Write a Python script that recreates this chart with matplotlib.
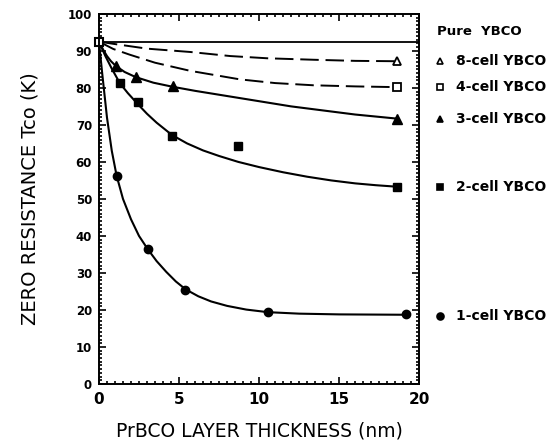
import matplotlib
matplotlib.use("Agg")
import matplotlib.pyplot as plt
from matplotlib.ticker import MultipleLocator

# measured points (thickness nm, Tco K)
pure_tc = 92.5

x8 = [18.6]
y8 = [87.2]
x4 = [18.6]
y4 = [80.2]
x3 = [1.06, 2.3, 4.6, 18.6]
y3 = [85.9, 82.9, 80.4, 71.7]
x2 = [1.3, 2.45, 4.55, 8.7, 18.6]
y2 = [81.3, 76.1, 67.1, 64.4, 53.3]
x1 = [1.1, 3.05, 5.4, 10.55, 19.2]
y1 = [56.3, 36.4, 25.3, 19.5, 18.8]

# guide curves
c8x = [0, 0.9, 3, 5.7, 8.2, 10.5, 13.4, 16, 18.6]
c8y = [92.5, 91.9, 90.6, 89.7, 88.6, 88.0, 87.6, 87.3, 87.2]
c4x = [0, 0.9, 1.9, 3.5, 5.7, 8.8, 11, 13.4, 16, 18.6]
c4y = [92.5, 90.5, 89.0, 86.8, 84.6, 82.3, 81.3, 80.7, 80.4, 80.2]
c3x = [0, 0.25, 0.5, 0.75, 1.06, 1.6, 2.3, 3.4, 4.6, 6, 8, 10, 12, 14, 16, 18.6]
c3y = [92.5, 90.4, 88.6, 87.2, 85.9, 84.3, 82.9, 81.4, 80.3, 79.2, 77.8, 76.4, 75.0, 73.9, 72.8, 71.7]
c2x = [0, 0.4, 0.8, 1.3, 1.8, 2.45, 3.0, 3.6, 4.55, 5.5, 6.5, 7.5, 8.7, 10, 11.5, 13, 14.5, 16, 17.3, 18.6]
c2y = [92.5, 88.6, 85.2, 81.3, 78.6, 75.5, 73.0, 70.6, 67.3, 65.0, 63.1, 61.6, 60.0, 58.6,
       57.2, 56.0, 55.0, 54.2, 53.7, 53.3]
c1x = [0, 0.2, 0.5, 0.8, 1.1, 1.5, 2.0, 2.5, 3.05, 3.6, 4.2, 4.8, 5.4, 6.2, 7.0, 8.0, 9.2,
       10.55, 12.5, 15, 19.2]
c1y = [92.5, 84, 72, 63, 56.3, 50, 44.5, 40, 36.4, 33.2, 30.3, 27.7, 25.6, 23.7, 22.3, 21.1,
       20.1, 19.4, 19.0, 18.8, 18.7]

labels = ["8-cell YBCO", "4-cell YBCO", "3-cell YBCO", "2-cell YBCO", "1-cell YBCO"]
label_y = [87.2, 80.2, 71.7, 53.3, 18.3]
label_mk = ["^", "s", "^", "s", "o"]
label_fill = ["white", "white", "black", "black", "black"]

fig = plt.figure(figsize=(5.56, 4.47), dpi=100)
ax = fig.add_axes([0.178, 0.141, 0.576, 0.828])

ax.axhline(pure_tc, color="black", lw=1.3)
ax.plot(c8x, c8y, color="black", lw=1.4, dashes=(9.5, 3.5))
ax.plot(c4x, c4y, color="black", lw=1.4, dashes=(9.5, 3.5))
ax.plot(c3x, c3y, color="black", lw=1.5)
ax.plot(c2x, c2y, color="black", lw=1.5)
ax.plot(c1x, c1y, color="black", lw=1.5)

ax.plot([0], [pure_tc], "s", ms=6, mfc="white", mec="black", mew=1.5, clip_on=False)
ax.plot(x8, y8, "^", ms=6, mfc="white", mec="black", mew=1.3)
ax.plot(x4, y4, "s", ms=5.5, mfc="white", mec="black", mew=1.3)
ax.plot(x3, y3, "^", ms=6.5, color="black")
ax.plot(x2, y2, "s", ms=6, color="black")
ax.plot(x1, y1, "o", ms=6, color="black")

ax.set_xlim(0, 20)
ax.set_ylim(0, 100)
ax.xaxis.set_major_locator(MultipleLocator(5))
ax.xaxis.set_minor_locator(MultipleLocator(0.5))
ax.yaxis.set_major_locator(MultipleLocator(10))
ax.yaxis.set_minor_locator(MultipleLocator(1))
ax.tick_params(which="both", direction="in", top=True, right=True, width=1.2)
ax.tick_params(which="major", length=5)
ax.tick_params(which="minor", length=2)
ax.tick_params(axis="x", labelsize=11, pad=6)
ax.tick_params(axis="y", labelsize=8.5, pad=5)
for t in ax.get_xticklabels() + ax.get_yticklabels():
    t.set_fontweight("bold")
for s in ax.spines.values():
    s.set_linewidth(1.4)

ax.set_xlabel("PrBCO LAYER THICKNESS (nm)", fontsize=13.5, labelpad=10)
ax.set_ylabel("ZERO RESISTANCE Tco (K)", fontsize=14, labelpad=20)

ax.text(21.1, 95.2, "Pure  YBCO", fontsize=9.5, fontweight="bold", va="center", clip_on=False)
for lab, yy, mk, fc in zip(labels, label_y, label_mk, label_fill):
    ax.plot([21.3], [yy], mk, ms=5, mfc=fc, mec="black", mew=1.2, clip_on=False)
    ax.text(22.3, yy, lab, fontsize=10, fontweight="bold", va="center", clip_on=False)

fig.savefig("out.png", dpi=100)
